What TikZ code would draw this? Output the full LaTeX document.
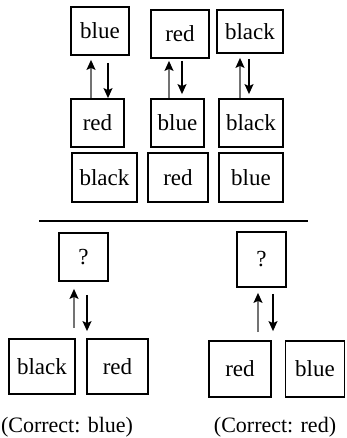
\documentclass[tikz,border=0pt]{standalone}
\usepackage{fontspec}
\setmainfont{Liberation Serif}
\newfontfamily\tmsfont{Liberation Serif}
\usetikzlibrary{arrows.meta}
\begin{document}
\begin{tikzpicture}[x=1pt,y=-1pt,
  box/.style={draw,line width=1.8pt,inner sep=0pt,font=\tmsfont\fontsize{23}{23}\selectfont},
  uparr/.style={draw=black!55,line width=1.3pt,-{Stealth[black,length=10pt,width=9pt,inset=2pt]}},
  dnarr/.style={draw=black,line width=1.3pt,-{Stealth[length=10pt,width=9pt,inset=2pt]}},
  lab/.style={font=\tmsfont\fontsize{22}{22}\selectfont,inner sep=0pt}]
\useasboundingbox (0,0) rectangle (346,438);
% top rows
\node[box,minimum width=58pt,minimum height=48pt] (t1) at (100,31) {blue};
\node[box,minimum width=58pt,minimum height=48pt] (t2) at (180,34) {red};
\node[box,minimum width=66pt,minimum height=43pt] (t3) at (250,31.5) {black};
\node[box,minimum width=53pt,minimum height=48pt] (m1) at (97.5,123) {red};
\node[box,minimum width=53pt,minimum height=48pt] (m2) at (177.5,123) {blue};
\node[box,minimum width=64pt,minimum height=48pt] (m3) at (251,123) {black};
\node[box,minimum width=65pt,minimum height=49pt] (b1) at (104.5,177.5) {black};
\node[box,minimum width=60pt,minimum height=49pt] (b2) at (178,177.5) {red};
\node[box,minimum width=64pt,minimum height=49pt] (b3) at (251,177.5) {blue};
% arrow x positions
\coordinate (a1) at (91,0);
\coordinate (a2) at (108,0);
\coordinate (a3) at (169,0);
\coordinate (a4) at (182,0);
\coordinate (a5) at (240,0);
\coordinate (a6) at (249,0);
\path[uparr,shorten >=4pt] (m1.north -| a1) -- (t1.south -| a1);
\path[dnarr,shorten <=7pt] (t1.south -| a2) -- (m1.north -| a2);
\path[uparr,shorten >=2pt] (m2.north -| a3) -- (t2.south -| a3);
\path[dnarr,shorten <=2pt,shorten >=4pt] (t2.south -| a4) -- (m2.north -| a4);
\path[uparr,shorten >=4pt] (m3.north -| a5) -- (t3.south -| a5);
\path[dnarr,shorten <=5pt,shorten >=4pt] (t3.south -| a6) -- (m3.north -| a6);
% separator
\coordinate (s1) at (39,221);
\coordinate (s2) at (308,221);
\draw[line width=1.8pt] (s1) -- (s2);
% bottom
\node[box,minimum width=49pt,minimum height=48pt] (q1) at (83.5,257) {?};
\node[box,minimum width=49pt,minimum height=55pt] (q2) at (261.5,259.5) {?};
\node[box,minimum width=66pt,minimum height=55pt] (l1) at (42,366.5) {black};
\node[box,minimum width=61pt,minimum height=55pt] (l2) at (117.5,366.5) {red};
\node[box,minimum width=62pt,minimum height=56pt] (r1) at (240,369) {red};
\node[box,minimum width=59pt,minimum height=56pt] (r2) at (315,369) {blue};
\coordinate (c1) at (74,0);
\coordinate (c2) at (87,0);
\coordinate (c3) at (258,0);
\coordinate (c4) at (273,0);
\path[uparr,shorten <=10pt,shorten >=7pt] (l1.north -| c1) -- (q1.south -| c1);
\path[dnarr,shorten <=13pt,shorten >=7pt] (q1.south -| c2) -- (l2.north -| c2);
\path[uparr,shorten <=8pt,shorten >=5pt] (r1.north -| c3) -- (q2.south -| c3);
\path[dnarr,shorten <=6pt,shorten >=9pt] (q2.south -| c4) -- (r1.north -| c4);
\node[lab] (k1) at (67,427) {(Correct: blue)};
\node[lab] (k2) at (275,427) {(Correct: red)};
\end{tikzpicture}
\end{document}
